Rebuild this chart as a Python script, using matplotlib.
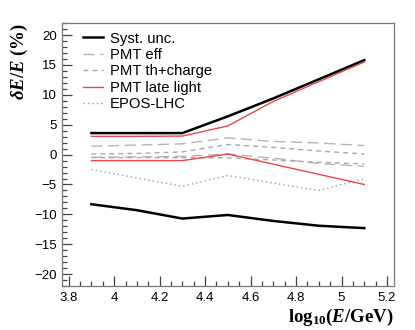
import matplotlib
matplotlib.use("Agg")
import matplotlib.pyplot as plt
from matplotlib.ticker import MultipleLocator

x = [3.9, 4.1, 4.3, 4.5, 4.7, 4.9, 5.1]
syst_up = [3.6, 3.6, 3.6, 6.4, 9.4, 12.6, 15.8]
syst_lo = [-8.3, -9.3, -10.7, -10.1, -11.1, -11.9, -12.3]
eff_up = [1.4, 1.6, 1.8, 2.8, 2.2, 1.95, 1.5]
eff_lo = [-0.45, -0.4, -0.3, 0.1, -0.6, -1.5, -1.95]
th_up = [0.1, 0.2, 0.45, 1.7, 1.2, 0.6, 0.1]
th_lo = [-0.5, -0.5, -0.5, -0.55, -0.9, -1.3, -1.55]
late_up = [3.05, 3.05, 3.1, 4.8, 8.9, 12.2, 15.5]
late_lo = [-1.0, -1.0, -1.0, 0.1, -1.6, -3.3, -5.0]
epos = [-2.5, -3.9, -5.3, -3.5, -4.75, -6.0, -4.05]

labels = ["Syst. unc.", "PMT eff", "PMT th+charge", "PMT late light", "EPOS-LHC"]

plt.rcParams['font.family'] = ['Liberation Sans', 'DejaVu Sans']
plt.rcParams['mathtext.fontset'] = 'custom'
plt.rcParams['mathtext.rm'] = 'Liberation Serif:bold'
plt.rcParams['mathtext.bf'] = 'Liberation Serif:bold'
plt.rcParams['mathtext.it'] = 'Liberation Serif:bold:italic'
plt.rcParams['mathtext.bfit'] = 'Liberation Serif:bold:italic'

fig = plt.figure(figsize=(4.15, 3.3), dpi=100)
ax = fig.add_axes([0.149, 0.133, 0.8, 0.797])

red = '#e8474a'
g1 = '#b4b4b4'
g2 = '#a8a8a8'
g3 = '#999999'

ax.plot(x, syst_up, color='black', lw=1.8, label=labels[0])
ax.plot(x, eff_up, color=g1, lw=1.0, dashes=(8, 4), label=labels[1])
ax.plot(x, th_up, color=g2, lw=1.0, dashes=(3.5, 3), label=labels[2])
ax.plot(x, late_up, color=red, lw=1.0, label=labels[3])
ax.plot(x, epos, color=g3, lw=1.0, dashes=(1, 2.2), label=labels[4])
ax.plot(x, syst_lo, color='black', lw=1.8)
ax.plot(x, eff_lo, color=g1, lw=1.0, dashes=(8, 4))
ax.plot(x, th_lo, color=g2, lw=1.0, dashes=(3.5, 3))
ax.plot(x, late_lo, color=red, lw=1.0)

ax.set_xlim(3.77, 5.23)
ax.set_ylim(-22, 22)
ax.xaxis.set_major_locator(MultipleLocator(0.2))
ax.xaxis.set_minor_locator(MultipleLocator(0.05))
ax.yaxis.set_major_locator(MultipleLocator(5))
ax.yaxis.set_minor_locator(MultipleLocator(1))
ax.set_xticks([3.8, 4.0, 4.2, 4.4, 4.6, 4.8, 5.0, 5.2])
ax.set_xticklabels(['3.8', '4', '4.2', '4.4', '4.6', '4.8', '5', '5.2'])
ax.set_yticks([-20, -15, -10, -5, 0, 5, 10, 15, 20])
ax.set_yticklabels(['\u221220', '\u221215', '\u221210', '\u22125', '0', '5', '10', '15', '20'])
ax.tick_params(which='both', direction='in', colors='#444444', labelcolor='black', labelsize=9.5, width=0.9)
ax.tick_params(which='major', length=7)
ax.tick_params(which='minor', length=3.5)
ax.tick_params(axis='x', pad=4)
for s in ax.spines.values():
    s.set_color('#777777')
    s.set_linewidth(0.9)

ax.set_ylabel(r'$\delta\mathit{E}/\mathit{E}\ (\%)$', fontsize=13.5, loc='top', labelpad=3)
ax.set_xlabel(r'$\mathrm{log}_{10}(\mathit{E}/\mathrm{GeV})$', fontsize=13.5, loc='right', labelpad=2)

ax.legend(loc='upper left', bbox_to_anchor=(0.045, 0.99), frameon=False, fontsize=10.7,
          handlelength=1.35, handletextpad=0.47, labelspacing=0.16, borderaxespad=0)

fig.savefig('out.png', dpi=100)
